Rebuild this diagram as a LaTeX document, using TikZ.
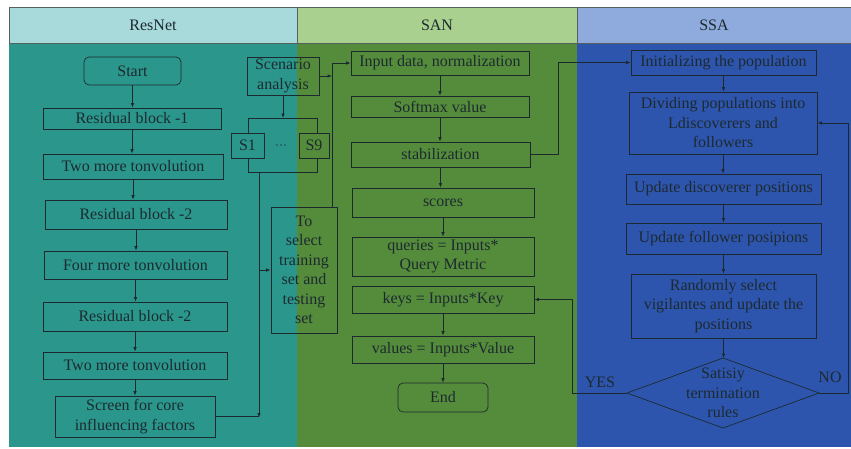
\documentclass[tikz,border=0pt]{standalone}
\usepackage{fontspec}
\setmainfont{Liberation Serif}
\usetikzlibrary{arrows.meta}

% panel colours
\definecolor{hdrA}{HTML}{A8DADB}
\definecolor{hdrB}{HTML}{A9D08E}
\definecolor{hdrC}{HTML}{8FAADC}
\definecolor{bodyA}{HTML}{2B978C}
\definecolor{bodyB}{HTML}{558C3B}
\definecolor{bodyC}{HTML}{2E55AD}
\definecolor{inkc}{HTML}{1C2A30}
\definecolor{framec}{HTML}{55605F}

\tikzset{
  txt/.style={font=\fontsize{16}{19.5}\selectfont, text=inkc, align=center, inner sep=0pt},
  stepbox/.style={txt, draw=inkc, line width=0.7pt, minimum width=#1},
  stepbox/.default=180pt,
  termbox/.style={stepbox=#1, rounded corners=5pt},
  link/.style={draw=inkc, line width=0.7pt},
  arr/.style={link, -{Latex[length=4.5pt,width=3.6pt]}},
  hdr/.style={draw=framec, line width=0.6pt},
}

\begin{document}
\begin{tikzpicture}[x=1pt,y=-1pt]
\useasboundingbox (0,0) rectangle (851,448);
\fill[white] (0,0) rectangle (851,448);

% column bodies
\fill[bodyA] (9,43) rectangle (297,447);
\fill[bodyB] (297,43) rectangle (577,447);
\fill[bodyC] (577,43) rectangle (851,447);

% column headers
\draw[hdr, fill=hdrA] (9,7) rectangle (297,43);
\draw[hdr, fill=hdrB] (297,7) rectangle (577,43);
\draw[hdr, fill=hdrC] (577,7) rectangle (851,43);
\node[txt] (hA) at (153,25) {ResNet};
\node[txt] (hB) at (437,25) {SAN};
\node[txt] (hC) at (714,25) {SSA};

% ---------------- ResNet ----------------
\node[termbox=97pt, minimum height=28pt] (start) at (132.5,71) {Start};
\node[stepbox=178pt, minimum height=21pt] (rb1) at (132,118.5) {Residual block -1};
\node[stepbox=180pt, minimum height=25pt] (tm1) at (133,166.5) {Two more tonvolution};
\node[stepbox=182pt, minimum height=29pt] (rb2) at (136,214.5) {Residual block -2};
\node[stepbox=183pt, minimum height=28pt] (fm) at (135.5,265) {Four more tonvolution};
\node[stepbox=184pt, minimum height=29pt] (rb3) at (135,316.5) {Residual block -2};
\node[stepbox=184pt, minimum height=27pt] (tm2) at (135,365.5) {Two more tonvolution};
\node[stepbox=160pt, minimum height=41pt] (scr) at (135,416.5) {Screen for core\\influencing factors};

\foreach \a/\b in {start/rb1, rb1/tm1, tm1/rb2, rb2/fm, fm/rb3, rb3/tm2, tm2/scr}
  \draw[arr] (\a.south) -- (\a.south |- \b.north);

% ---------------- scenario branch ----------------
\node[stepbox=72pt, minimum height=38pt] (scen) at (283,76) {Scenario\\analysis};
\node[stepbox=33pt, minimum height=25pt] (s1) at (247.5,145.5) {S1};
\node[stepbox=30pt, minimum height=25pt] (s9) at (314,145.5) {S9};
\node[txt, font=\fontsize{12}{14}\selectfont] (dots) at (281,147) {···};
\node[stepbox=66pt, minimum height=126pt] (tosel) at (304,270) {To\\select\\training\\set and\\testing\\set};

\coordinate (btl) at (248,118);
\coordinate (btr) at (317,118);
\coordinate (bbl) at (248,172);
\coordinate (bbr) at (317,172);
\coordinate (bdn) at (259,172);
\coordinate (jn) at (332,207);

\draw[arr] (scen.south) -- (scen.south |- btl);
\draw[link] (s1.north -| btl) -- (btl) -- (btr) -- (s9.north -| btr);
\draw[link] (s1.south -| bbl) -- (bbl) -- (bbr) -- (s9.south -| bbr);
\draw[link] (scr.east) -- (scr.east -| bdn);
\draw[arr] (bdn) -- ([yshift=-1pt]scr.east -| bdn);
\draw[arr] (tosel.west -| bdn) -- (tosel.west);

% ---------------- SAN ----------------
\node[stepbox=178pt, minimum height=24pt] (inp) at (440,63) {Input data, normalization};
\node[stepbox=178pt, minimum height=21pt] (soft) at (440,106.5) {Softmax value};
\node[stepbox=179pt, minimum height=25pt] (stab) at (440.5,154.5) {stabilization};
\node[stepbox=182pt, minimum height=29pt] (scores) at (443,202.5) {scores};
\node[stepbox=182pt, minimum height=39pt] (queries) at (443,256.5) {queries = Inputs*\\Query Metric};
\node[stepbox=182pt, minimum height=27pt] (keys) at (443,299.5) {keys = Inputs*Key};
\node[stepbox=182pt, minimum height=27pt] (values) at (443,349.5) {values = Inputs*Value};
\node[termbox=90pt, minimum height=29pt] (end) at (443,397.5) {End};

\draw[arr] (jn) |- (inp.west);
\draw[arr] (scen.east) -- (scen.east -| jn);

\foreach \a/\b in {inp/soft, soft/stab, stab/scores, scores/queries, keys/values, values/end}
  \draw[arr] (\a.south) -- (\a.south |- \b.north);

% ---------------- SSA ----------------
\node[stepbox=185pt, minimum height=25pt] (init) at (723.5,62.5) {Initializing the population};
\node[stepbox=188pt, minimum height=62pt] (div) at (723,123) {Dividing populations into\\Ldiscoverers and\\followers};
\node[stepbox=195pt, minimum height=30pt] (upd) at (723.5,189) {Update discoverer positions};
\node[stepbox=195pt, minimum height=31pt] (fol) at (723.5,238.5) {Update follower posipions};
\node[stepbox=185pt, minimum height=64pt] (rand) at (723.5,306) {Randomly select\\vigilantes and update the\\positions};

% decision diamond
\coordinate (dt) at (723,358);
\coordinate (db) at (723,428);
\coordinate (dl) at (627,393);
\coordinate (dr) at (819,393);
\draw[link] (dt) -- (dr) -- (db) -- (dl) -- cycle;
\node[txt] (dec) at (723,393) {Satisiy\\termination\\rules};

\foreach \a/\b in {init/div, div/upd, upd/fol, fol/rand}
  \draw[arr] (\a.south) -- (\a.south |- \b.north);
\draw[arr] (rand.south) -- (rand.south |- dt);

% cross-column connectors
\coordinate (sx) at (558,0);
\coordinate (yx) at (572,0);
\coordinate (nx) at (848,0);
\draw[arr] (stab.east) -- (stab.east -| sx) |- (init.west);
\draw[arr] (dl) -- (dl -| yx) |- (keys.east);
\draw[arr] (dr) -- (dr -| nx) |- (div.east);
\node[txt] (yes) at (600,382) {YES};
\node[txt] (no) at (830,377) {NO};
\end{tikzpicture}
\end{document}
